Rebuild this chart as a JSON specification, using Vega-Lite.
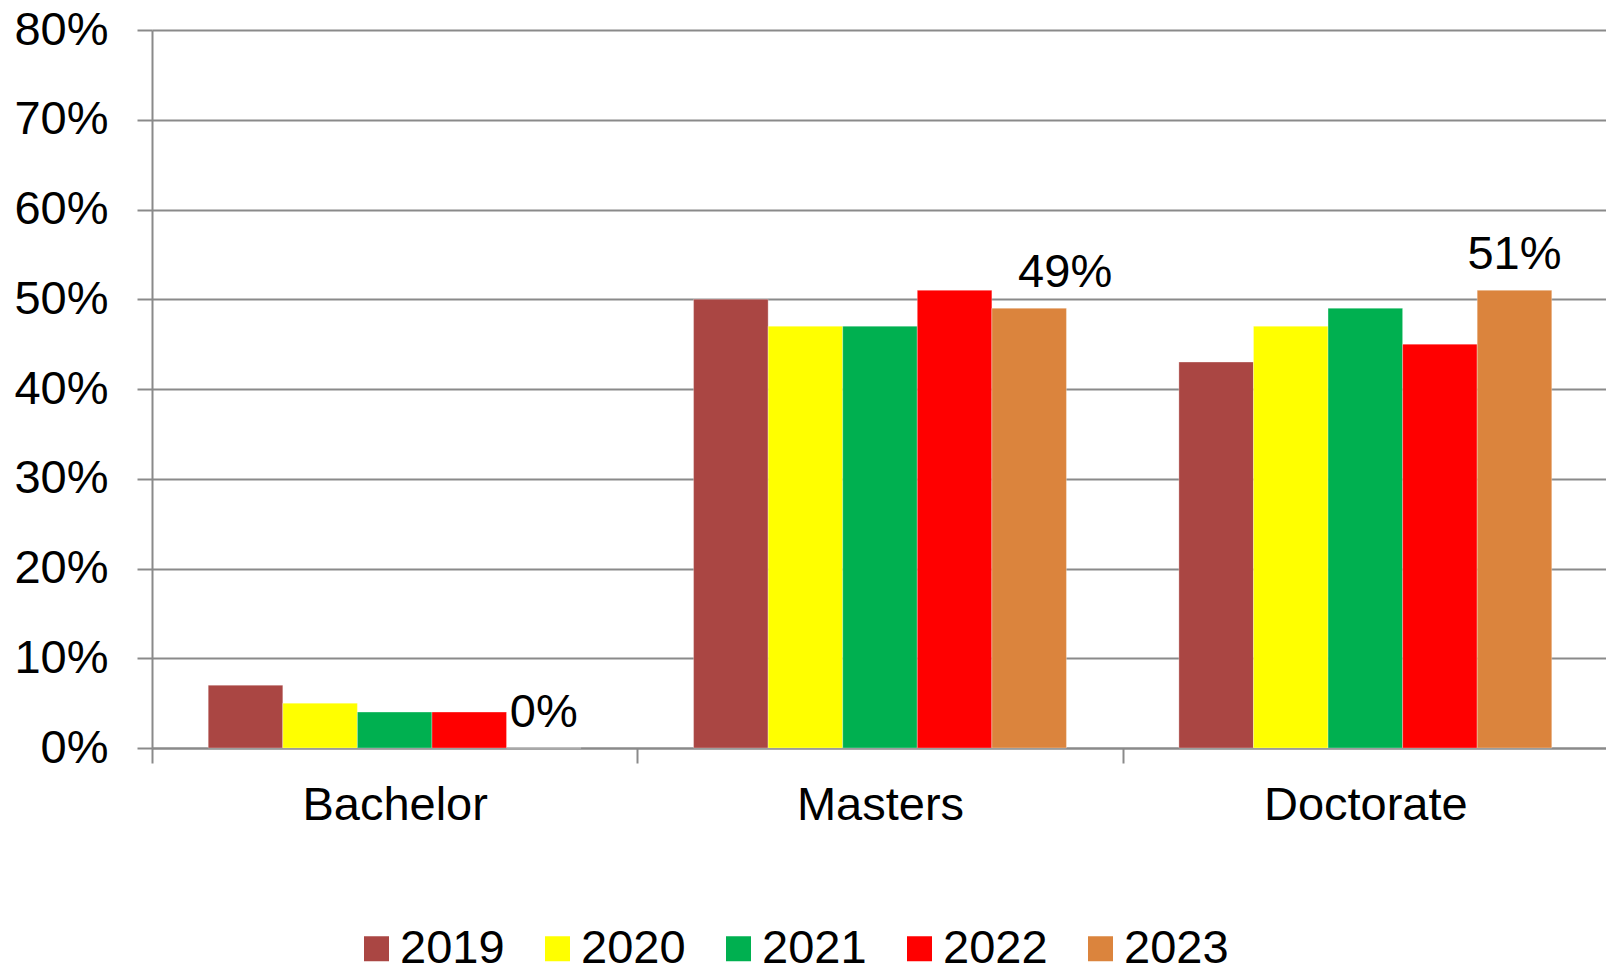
{
  "$schema": "https://vega.github.io/schema/vega-lite/v6.json",
  "autosize": {"type": "none"},
  "padding": {"left": 152, "top": 30, "right": 0, "bottom": 221},
  "width": 1456,
  "height": 718,
  "background": "white",
  "config": {
    "view": {"stroke": null},
    "font": "Liberation Sans",
    "text": {"font": "Liberation Sans"}
  },
  "data": {
    "values": [
      {"degree": "Bachelor", "year": "2019", "value": 0.07},
      {"degree": "Bachelor", "year": "2020", "value": 0.05},
      {"degree": "Bachelor", "year": "2021", "value": 0.04},
      {"degree": "Bachelor", "year": "2022", "value": 0.04},
      {"degree": "Bachelor", "year": "2023", "value": 0.0},
      {"degree": "Masters", "year": "2019", "value": 0.50},
      {"degree": "Masters", "year": "2020", "value": 0.47},
      {"degree": "Masters", "year": "2021", "value": 0.47},
      {"degree": "Masters", "year": "2022", "value": 0.51},
      {"degree": "Masters", "year": "2023", "value": 0.49},
      {"degree": "Doctorate", "year": "2019", "value": 0.43},
      {"degree": "Doctorate", "year": "2020", "value": 0.47},
      {"degree": "Doctorate", "year": "2021", "value": 0.49},
      {"degree": "Doctorate", "year": "2022", "value": 0.45},
      {"degree": "Doctorate", "year": "2023", "value": 0.51}
    ]
  },
  "encoding": {
    "x": {
      "field": "degree",
      "type": "nominal",
      "sort": ["Bachelor", "Masters", "Doctorate"],
      "scale": {"paddingInner": 0, "paddingOuter": 0},
      "axis": {
        "title": null,
        "labelAngle": 0,
        "labelFontSize": 47,
        "labelLimit": 0,
        "labelColor": "black",
        "labelPadding": 19,
        "tickBand": "extent",
        "tickSize": 15,
        "tickColor": "#8a8a8a",
        "tickWidth": 2,
        "domainColor": "#8a8a8a",
        "domainWidth": 2,
        "grid": false
      }
    },
    "xOffset": {
      "field": "year",
      "type": "nominal",
      "scale": {"paddingInner": 0, "paddingOuter": 0.754}
    },
    "y": {
      "field": "value",
      "type": "quantitative",
      "scale": {"domain": [0, 0.8], "nice": false},
      "axis": {
        "title": null,
        "format": ".0%",
        "values": [0, 0.1, 0.2, 0.3, 0.4, 0.5, 0.6, 0.7, 0.8],
        "labelFontSize": 47,
        "labelColor": "black",
        "labelPadding": 29,
        "tickSize": 15,
        "tickColor": "#8a8a8a",
        "tickWidth": 2,
        "domainColor": "#8a8a8a",
        "domainWidth": 2,
        "gridColor": "#8a8a8a",
        "gridWidth": 2,
        "gridOpacity": 1
      }
    }
  },
  "layer": [
    {
      "mark": {"type": "bar", "stroke": "white", "strokeWidth": 0.5, "strokeOpacity": 0.6},
      "encoding": {
        "color": {
          "field": "year",
          "type": "nominal",
          "scale": {
            "domain": ["2019", "2020", "2021", "2022", "2023"],
            "range": ["#AA4643", "#FFFF00", "#00B050", "#FF0000", "#DB843D"]
          },
          "legend": {
            "title": null,
            "orient": "none",
            "direction": "horizontal",
            "legendX": 201,
            "legendY": 895,
            "symbolType": "square",
            "symbolSize": 625,
            "symbolStrokeWidth": 0,
            "symbolOpacity": 1,
            "labelFontSize": 47,
            "labelColor": "black",
            "labelOffset": 0,
            "columnPadding": 29,
            "padding": 0
          }
        }
      }
    },
    {
      "transform": [{"filter": "datum.year == '2023' && datum.degree != 'Masters'"}],
      "mark": {"type": "text", "fontSize": 47, "color": "black", "baseline": "alphabetic", "dy": -21},
      "encoding": {
        "text": {"field": "value", "type": "quantitative", "format": ".0%"}
      }
    },
    {
      "transform": [{"filter": "datum.year == '2023' && datum.degree == 'Masters'"}],
      "mark": {"type": "text", "fontSize": 47, "color": "black", "baseline": "alphabetic", "dy": -21, "dx": 36},
      "encoding": {
        "text": {"field": "value", "type": "quantitative", "format": ".0%"}
      }
    }
  ]
}
